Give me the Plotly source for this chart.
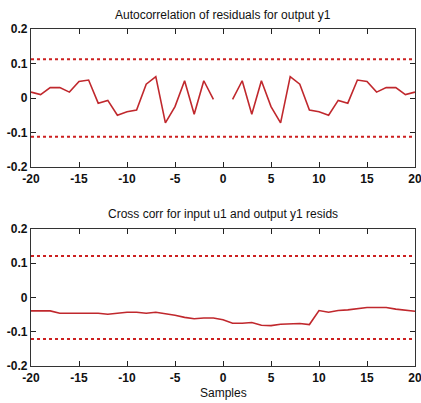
import plotly.graph_objects as go
from plotly.subplots import make_subplots

# Lags for the correlation plots
lags = list(range(-20, 21))

# Autocorrelation of residuals for lags 1..20 (symmetric about lag 0, lag 0 not shown)
acf_pos = [-0.004, 0.050, -0.047, 0.050, -0.025, -0.072, 0.062, 0.040, -0.035, -0.040,
           -0.050, -0.007, -0.015, 0.052, 0.048, 0.017, 0.030, 0.030, 0.010, 0.017]
acf = acf_pos[::-1] + [None] + acf_pos

# Cross correlation between input u1 and output y1 residuals
ccf = [-0.039, -0.039, -0.039, -0.046, -0.046, -0.046, -0.046, -0.046, -0.049, -0.046,
       -0.043, -0.043, -0.046, -0.043, -0.047, -0.052, -0.058, -0.062, -0.060, -0.060,
       -0.065, -0.075, -0.075, -0.073, -0.081, -0.082, -0.078, -0.078, -0.076, -0.079,
       -0.038, -0.043, -0.038, -0.036, -0.032, -0.029, -0.029, -0.029, -0.034, -0.037,
       -0.040]

# 99% confidence bounds
acf_conf = 0.112
ccf_conf = 0.121

# Tick positions and labels
xvals = [-20, -15, -10, -5, 0, 5, 10, 15, 20]
xtxt = ["-20", "-15", "-10", "-5", "0", "5", "10", "15", "20"]
yvals = [-0.2, -0.1, 0, 0.1, 0.2]
ytxt = ["-0.2", "-0.1", "0", "0.1", "0.2"]

line_col = "#c0282d"
conf_col = "#cc2020"
font = "Liberation Sans, Arial, sans-serif"

fig = make_subplots(rows=2, cols=1)

fig.add_trace(go.Scatter(x=lags, y=acf, mode="lines", connectgaps=False,
                         line=dict(color=line_col, width=1.6)), row=1, col=1)
for b in (acf_conf, -acf_conf):
    fig.add_trace(go.Scatter(x=[lags[0], lags[-1]], y=[b, b], mode="lines",
                             line=dict(color=conf_col, width=2, dash="dot")), row=1, col=1)

fig.add_trace(go.Scatter(x=lags, y=ccf, mode="lines",
                         line=dict(color=line_col, width=1.6)), row=2, col=1)
for b in (ccf_conf, -ccf_conf):
    fig.add_trace(go.Scatter(x=[lags[0], lags[-1]], y=[b, b], mode="lines",
                             line=dict(color=conf_col, width=2, dash="dot")), row=2, col=1)

W, H = 421, 403
x_dom = [31 / W, 415 / W]
top_dom = [(H - 167) / H, (H - 29) / H]
bot_dom = [(H - 366) / H, (H - 229) / H]

ax_common = dict(showline=True, linecolor="#333333", linewidth=1.2, mirror="ticks",
                 ticks="inside", ticklen=5, tickcolor="#222222", showgrid=False,
                 zeroline=False, automargin=False, ticklabeloverflow="allow",
                 tickfont=dict(family=font, size=12, color="#111111", weight="bold"))

xt = dict(range=[-20, 20], tickvals=xvals, ticktext=xtxt, **ax_common)
yt = dict(range=[-0.2, 0.2], tickvals=yvals, ticktext=ytxt, **ax_common)

fig.update_layout(
    width=W, height=H, margin=dict(l=0, r=0, t=0, b=0),
    paper_bgcolor="white", plot_bgcolor="white", showlegend=False,
    xaxis=dict(domain=x_dom, anchor="y", **xt),
    yaxis=dict(domain=top_dom, anchor="x", **yt),
    xaxis2=dict(domain=x_dom, anchor="y2", **xt),
    yaxis2=dict(domain=bot_dom, anchor="x2", **yt),
)

xc = (x_dom[0] + x_dom[1]) / 2
for txt, ypix in (("Autocorrelation of residuals for output y1", 15),
                  ("Cross corr for input u1 and output y1 resids", 214),
                  ("Samples", 393)):
    fig.add_annotation(text=txt, x=xc, y=(H - ypix) / H, xref="paper", yref="paper",
                       showarrow=False, xanchor="center", yanchor="middle",
                       font=dict(family=font, size=12, color="#111111"))

fig.write_html("out.html")
